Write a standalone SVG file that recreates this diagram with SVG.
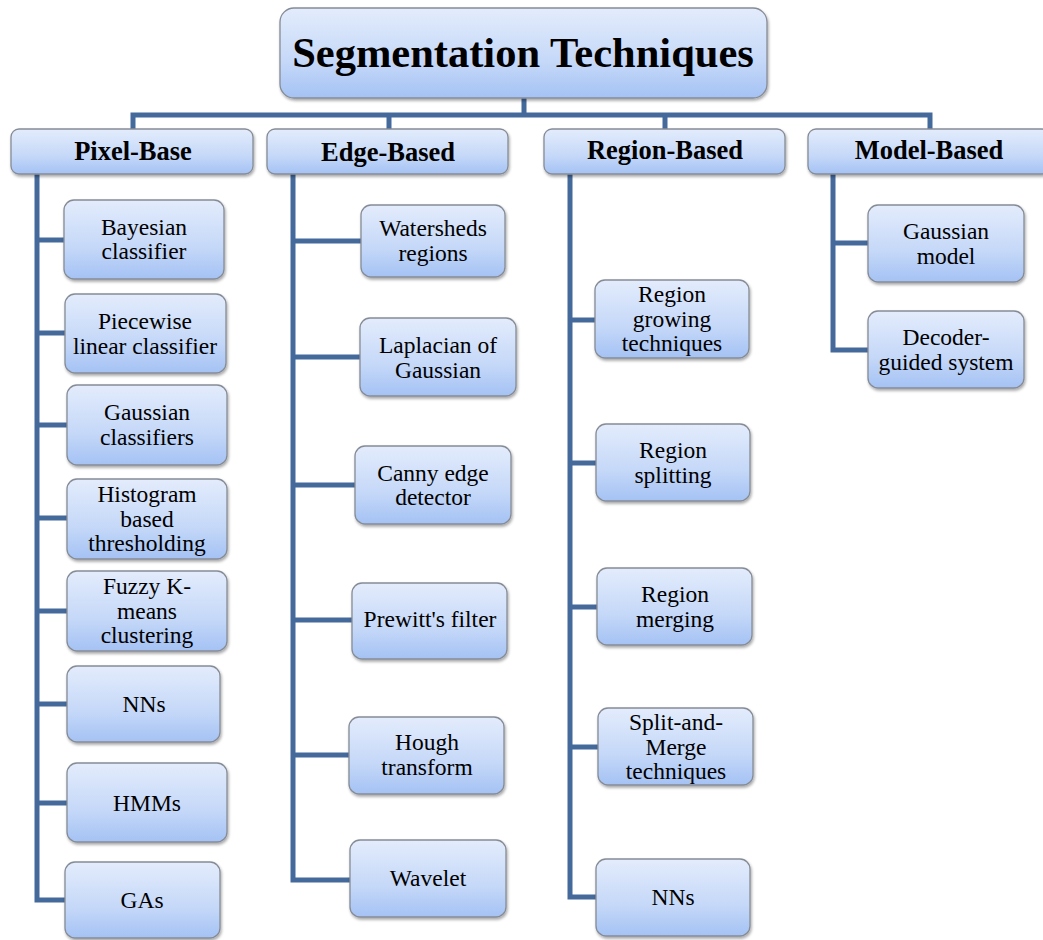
<svg xmlns="http://www.w3.org/2000/svg" width="1043" height="940" viewBox="0 0 1043 940">
<defs>
<linearGradient id="g" x1="0" y1="0" x2="0" y2="1">
<stop offset="0" stop-color="#e3ecfc"/>
<stop offset="0.6" stop-color="#c5d8f8"/>
<stop offset="1" stop-color="#a4c2f4"/>
</linearGradient>
<filter id="sh" x="-10%" y="-10%" width="125%" height="130%">
<feGaussianBlur in="SourceAlpha" stdDeviation="1.5"/>
<feOffset dx="1" dy="2" result="b"/>
<feComponentTransfer><feFuncA type="linear" slope="0.35"/></feComponentTransfer>
<feMerge><feMergeNode/><feMergeNode in="SourceGraphic"/></feMerge>
</filter>
</defs>
<style>
.box{fill:url(#g);stroke:#868c96;stroke-width:1.3;filter:url(#sh)}
text{font-family:'Liberation Serif','DejaVu Serif',serif;fill:#000;text-anchor:middle}
.t{font-size:23.5px}
.h{font-size:26.5px;font-weight:bold}
.root{font-size:42.5px;font-weight:bold}
.c{fill:none;stroke:#44699b;stroke-width:5;stroke-linejoin:miter}
</style>
<rect width="1043" height="940" fill="#fff"/>
<g id="connectors">
<path class="c" d="M524 98V115M133 129V115H930V129M389 115V129M665 115V129"/>
<path class="c" d="M37 174V900H65M37 240H64M37 333H65M37 425H67M37 518H67M37 611H67M37 704H67M37 803H67"/>
<path class="c" d="M293 174V880H350M293 241H361M293 357H360M293 485H355M293 620H352M293 755H349"/>
<path class="c" d="M570 174V897H596M570 320H595M570 463H596M570 607H597M570 747H598"/>
<path class="c" d="M833 174V350H868M833 243H868"/>
</g>
<g font-family="Liberation Serif, DejaVu Serif, serif">
<g id="root"><rect class="box" x="280" y="8" width="487" height="90" rx="14"/><text class="root" x="523" y="67">Segmentation Techniques</text></g>
<g id="pixel"><rect class="box" x="11" y="129" width="242" height="45" rx="8"/><text class="h" x="133" y="160">Pixel-Base</text></g>
<g id="edge"><rect class="box" x="267" y="129" width="241" height="45" rx="8"/><text class="h" x="388" y="161">Edge-Based</text></g>
<g id="region"><rect class="box" x="544" y="129" width="241" height="45" rx="8"/><text class="h" x="665" y="159">Region-Based</text></g>
<g id="model"><rect class="box" x="808" y="129" width="242" height="45" rx="8"/><text class="h" x="929" y="159">Model-Based</text></g>

<g id="bayes"><rect class="box" x="64" y="200" width="160" height="79" rx="10"/><text class="t" x="144" y="235">Bayesian</text><text class="t" x="144" y="259">classifier</text></g>
<g id="piecewise"><rect class="box" x="65" y="294" width="161" height="79" rx="10"/><text class="t" x="145" y="329">Piecewise</text><text class="t" x="145" y="354">linear classifier</text></g>
<g id="gaussc"><rect class="box" x="67" y="385" width="160" height="80" rx="10"/><text class="t" x="147" y="420">Gaussian</text><text class="t" x="147" y="445">classifiers</text></g>
<g id="hist"><rect class="box" x="67" y="479" width="160" height="80" rx="10"/><text class="t" x="147" y="502">Histogram</text><text class="t" x="147" y="527">based</text><text class="t" x="147" y="551">thresholding</text></g>
<g id="fuzzy"><rect class="box" x="67" y="571" width="160" height="80" rx="10"/><text class="t" x="147" y="594">Fuzzy K-</text><text class="t" x="147" y="619">means</text><text class="t" x="147" y="643">clustering</text></g>
<g id="nns1"><rect class="box" x="67" y="666" width="153" height="76" rx="10"/><text class="t" x="144" y="712">NNs</text></g>
<g id="hmms"><rect class="box" x="67" y="763" width="160" height="79" rx="10"/><text class="t" x="147" y="811">HMMs</text></g>
<g id="gas"><rect class="box" x="65" y="862" width="155" height="76" rx="10"/><text class="t" x="142" y="908">GAs</text></g>

<g id="watershed"><rect class="box" x="361" y="205" width="144" height="72" rx="10"/><text class="t" x="433" y="236">Watersheds</text><text class="t" x="433" y="261">regions</text></g>
<g id="laplacian"><rect class="box" x="360" y="318" width="156" height="78" rx="10"/><text class="t" x="438" y="353">Laplacian of</text><text class="t" x="438" y="378">Gaussian</text></g>
<g id="canny"><rect class="box" x="355" y="446" width="156" height="78" rx="10"/><text class="t" x="433" y="481">Canny edge</text><text class="t" x="433" y="505">detector</text></g>
<g id="prewitt"><rect class="box" x="352" y="583" width="155" height="76" rx="10"/><text class="t" x="430" y="627">Prewitt's filter</text></g>
<g id="hough"><rect class="box" x="349" y="717" width="155" height="77" rx="10"/><text class="t" x="427" y="750">Hough</text><text class="t" x="427" y="775">transform</text></g>
<g id="wavelet"><rect class="box" x="350" y="840" width="156" height="77" rx="10"/><text class="t" x="428" y="886">Wavelet</text></g>

<g id="growing"><rect class="box" x="595" y="280" width="154" height="78" rx="10"/><text class="t" x="672" y="302">Region</text><text class="t" x="672" y="327">growing</text><text class="t" x="672" y="351">techniques</text></g>
<g id="splitting"><rect class="box" x="596" y="424" width="154" height="77" rx="10"/><text class="t" x="673" y="458">Region</text><text class="t" x="673" y="483">splitting</text></g>
<g id="merging"><rect class="box" x="597" y="568" width="155" height="77" rx="10"/><text class="t" x="675" y="602">Region</text><text class="t" x="675" y="627">merging</text></g>
<g id="splitmerge"><rect class="box" x="598" y="708" width="155" height="77" rx="10"/><text class="t" x="676" y="730">Split-and-</text><text class="t" x="676" y="755">Merge</text><text class="t" x="676" y="779">techniques</text></g>
<g id="nns2"><rect class="box" x="596" y="859" width="154" height="77" rx="10"/><text class="t" x="673" y="905">NNs</text></g>

<g id="gaussmodel"><rect class="box" x="868" y="205" width="156" height="77" rx="10"/><text class="t" x="946" y="239">Gaussian</text><text class="t" x="946" y="264">model</text></g>
<g id="decoder"><rect class="box" x="868" y="311" width="156" height="77" rx="10"/><text class="t" x="946" y="345">Decoder-</text><text class="t" x="946" y="370">guided system</text></g>
</g>
</svg>
